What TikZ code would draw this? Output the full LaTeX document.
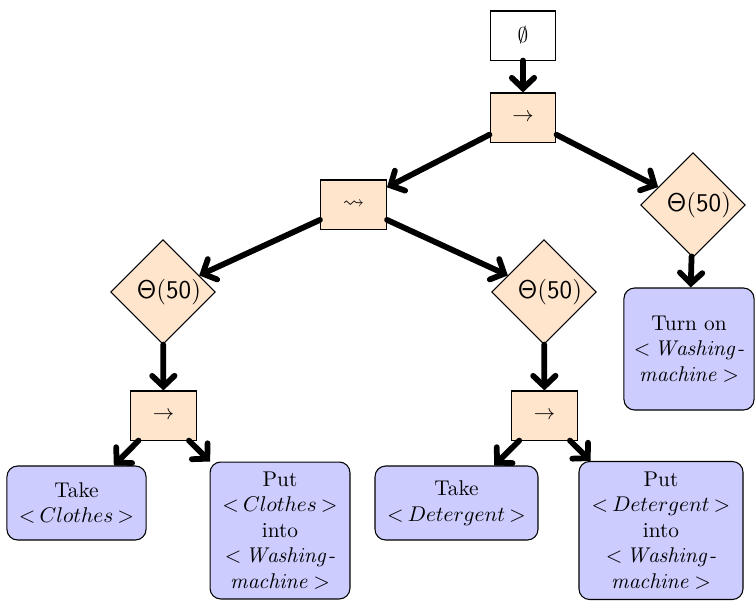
\documentclass[tikz,border=0pt]{standalone}
\usepackage{amssymb}
\usetikzlibrary{shapes.geometric,arrows.meta}
\definecolor{opfill}{RGB}{255,229,204}
\definecolor{actfill}{RGB}{204,204,255}
% angle-bracketed object names
\newcommand{\obj}[1]{${<}\mkern3.5mu\mathit{#1}$}
\newcommand{\objend}[1]{$\mathit{#1}\mkern3.5mu{>}$}
\newcommand{\objfull}[1]{${<}\mkern3.5mu #1\mkern3.5mu{>}$}
\newcommand{\prob}{\hspace*{5.6pt}$\mathsf{\Theta(50)}$}

\begin{document}
\begin{tikzpicture}[x=0.4688pt,y=-0.4688pt,
  opbox/.style={draw=black, line width=0.5pt, fill=opfill,
    minimum width=30.9pt, minimum height=23pt, inner sep=0pt},
  rootbox/.style={opbox, fill=white},
  decision/.style={diamond, aspect=1, draw=black, line width=0.5pt, fill=opfill,
    minimum width=49pt, minimum height=49pt, inner sep=0pt, font=\large},
  action/.style={draw=black, line width=0.5pt, fill=actfill, rounded corners=5pt,
    align=center, inner sep=0pt},
  link/.style={line width=2.7pt, line cap=round,
    -{Straight Barb[length=5pt,width=10.5pt,line cap=round]}}]

  \useasboundingbox (0,0) rectangle (755,600);

  % operator nodes
  \node[rootbox] (root) at (523,35.5) {$\emptyset$};
  \node[opbox] (seqtop) at (523,117.5) {$\rightarrow$};
  \node[opbox] (par) at (353.5,204.5) {$\leadsto$};
  \node[decision] (probR) at (693,205) {\prob};
  \node[decision] (probL) at (163,292) {\prob};
  \node[decision] (probM) at (544,292) {\prob};
  \node[opbox] (seqL) at (163.5,415.5) {$\rightarrow$};
  \node[opbox] (seqM) at (544.5,415.5) {$\rightarrow$};

  % action leaves
  \node[action, minimum width=61pt, minimum height=57.2pt] (turnon) at (689,349)
    {Turn on\\\obj{Washing}\textit{-}\\\objend{machine}};
  \node[action, minimum width=65.2pt, minimum height=34.7pt] (takeC) at (76.5,503)
    {Take\\\objfull{Clothes}};
  \node[action, minimum width=65.6pt, minimum height=64.2pt] (putC) at (280,530.5)
    {Put\\\objfull{Clothes}\\into\\\obj{Washing}\textit{-}\\\objend{machine}};
  \node[action, minimum width=76.4pt, minimum height=34.7pt] (takeD) at (456.5,503)
    {Take\\\objfull{Detergent}};
  \node[action, minimum width=76.9pt, minimum height=64.7pt] (putD) at (661,530.5)
    {Put\\\objfull{Detergent}\\into\\\obj{Washing}\textit{-}\\\objend{machine}};

  % connectors
  \draw[link] (root) -- (seqtop);
  \draw[link] (seqtop) -- (par);
  \draw[link] (seqtop) -- (probR);
  \draw[link] (probR) -- (turnon);
  \draw[link] (par) -- (probL);
  \draw[link] (par) -- (probM);
  \draw[link] (probL) -- (seqL);
  \draw[link] (probM) -- (seqM);
  \draw[link] (seqL) -- (takeC);
  \draw[link] (seqL) -- (putC);
  \draw[link] (seqM) -- (takeD);
  \draw[link] (seqM) -- (putD);
\end{tikzpicture}
\end{document}
